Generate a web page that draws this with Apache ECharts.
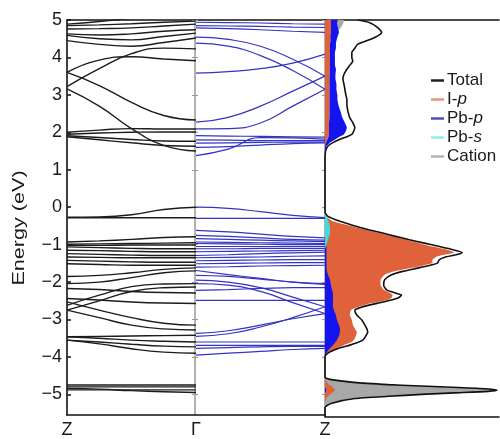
<!DOCTYPE html>
<html>
<head>
<meta charset="utf-8">
<script src="https://cdn.jsdelivr.net/npm/echarts@6/dist/echarts.min.js"></script>
<style>
html, body { margin: 0; background: #fff; }
#chart { width: 500px; height: 439px; }
</style>
</head>
<body>
<div id="chart"></div>
<script>
// k-path labels and energy ticks
const kLabels = ['Z', 'Γ', 'Z'];
const yTicks = [-5, -4, -3, -2, -1, 0, 1, 2, 3, 4, 5];
const kZG = [0, 0.25, 0.5, 0.75, 1];
const kGZ = [1, 1.25, 1.5, 1.75, 2];

// bands Z -> Γ (black), energies in eV at kZG
const bandsZG = [
    [4.89, 4.96, 5.05, 5.15, 5.2],
    [4.85, 4.87, 4.9, 4.94, 4.97],
    [4.76, 4.77, 4.79, 4.84, 4.89],
    [4.63, 4.6, 4.63, 4.7, 4.74],
    [4.59, 4.5, 4.47, 4.56, 4.65],
    [4.45, 4.35, 4.3, 4.4, 4.52],
    [3.6, 3.93, 4.02, 3.96, 3.91],
    [3.22, 3.7, 4.1, 4.25, 4.23],
    [3.6, 3.25, 2.8, 2.45, 2.33],
    [3.16, 2.7, 2.1, 1.65, 1.5],
    [2.0, 2.06, 2.1, 2.09, 2.09],
    [1.95, 1.98, 2.0, 2.01, 2.01],
    [1.91, 1.86, 1.81, 1.77, 1.76],
    [1.88, 1.8, 1.72, 1.65, 1.63],
    [-0.27, -0.26, -0.2, -0.06, 0.0],
    [-0.28, -0.28, -0.28, -0.28, -0.28],
    [-0.93, -0.9, -0.86, -0.81, -0.79],
    [-0.99, -0.98, -0.97, -0.96, -0.95],
    [-1.02, -1.02, -1.01, -1.01, -1.01],
    [-1.06, -1.08, -1.1, -1.11, -1.11],
    [-1.15, -1.16, -1.18, -1.19, -1.19],
    [-1.24, -1.26, -1.28, -1.29, -1.29],
    [-1.33, -1.34, -1.35, -1.35, -1.35],
    [-1.42, -1.44, -1.46, -1.47, -1.47],
    [-1.51, -1.53, -1.55, -1.55, -1.55],
    [-1.85, -1.82, -1.75, -1.66, -1.62],
    [-2.04, -2.0, -1.88, -1.75, -1.7],
    [-2.17, -2.2, -2.25, -2.28, -2.29],
    [-2.44, -2.48, -2.53, -2.56, -2.57],
    [-2.62, -2.35, -2.12, -2.05, -2.04],
    [-2.75, -2.5, -2.25, -2.15, -2.13],
    [-2.53, -2.75, -2.95, -3.1, -3.15],
    [-2.75, -2.95, -3.15, -3.25, -3.28],
    [-3.46, -3.45, -3.44, -3.43, -3.42],
    [-3.46, -3.5, -3.55, -3.58, -3.6],
    [-3.55, -3.6, -3.66, -3.71, -3.73],
    [-3.55, -3.65, -3.78, -3.87, -3.9],
    [-4.75, -4.75, -4.75, -4.75, -4.75],
    [-4.8, -4.8, -4.8, -4.8, -4.8],
    [-4.84, -4.86, -4.9, -4.93, -4.95],
    [-4.88, -4.88, -4.88, -4.88, -4.88],
];

// bands Γ -> Z (blue), energies in eV at kGZ
const bandsGZ = [
    [4.94, 4.93, 4.92, 4.9, 4.89],
    [4.85, 4.84, 4.83, 4.81, 4.8],
    [4.79, 4.77, 4.74, 4.7, 4.67],
    [4.54, 4.48, 4.3, 3.95, 3.5],
    [4.38, 4.3, 4.05, 3.65, 3.15],
    [3.58, 3.62, 3.7, 3.85, 4.09],
    [2.27, 2.4, 2.7, 3.1, 3.5],
    [2.09, 2.1, 2.25, 2.7, 3.15],
    [1.91, 1.9, 1.89, 1.88, 1.87],
    [1.8, 1.79, 1.78, 1.78, 1.78],
    [1.71, 1.72, 1.73, 1.74, 1.74],
    [1.6, 1.62, 1.66, 1.7, 1.72],
    [1.38, 1.55, 1.86, 1.85, 1.82],
    [0.0, -0.03, -0.12, -0.22, -0.28],
    [-0.3, -0.3, -0.3, -0.3, -0.3],
    [-0.62, -0.66, -0.72, -0.78, -0.82],
    [-0.75, -0.78, -0.82, -0.86, -0.88],
    [-0.84, -0.86, -0.88, -0.9, -0.92],
    [-0.93, -0.94, -0.95, -0.96, -0.97],
    [-0.97, -0.98, -0.99, -1.0, -1.0],
    [-1.05, -1.05, -1.05, -1.05, -1.05],
    [-1.11, -1.11, -1.1, -1.1, -1.1],
    [-1.19, -1.18, -1.17, -1.16, -1.15],
    [-1.29, -1.27, -1.24, -1.22, -1.2],
    [-1.35, -1.34, -1.33, -1.31, -1.3],
    [-1.43, -1.42, -1.41, -1.4, -1.4],
    [-1.51, -1.5, -1.49, -1.48, -1.48],
    [-1.6, -1.59, -1.57, -1.56, -1.55],
    [-1.69, -1.8, -1.9, -2.0, -2.04],
    [-1.82, -1.85, -1.92, -2.0, -2.06],
    [-1.95, -2.0, -2.15, -2.4, -2.66],
    [-2.04, -2.08, -2.25, -2.55, -2.84],
    [-2.22, -2.2, -2.17, -2.15, -2.15],
    [-2.49, -2.49, -2.49, -2.49, -2.49],
    [-3.37, -3.3, -3.15, -2.98, -2.84],
    [-3.45, -3.38, -3.2, -2.95, -2.66],
    [-3.6, -3.6, -3.6, -3.6, -3.6],
    [-3.69, -3.69, -3.69, -3.69, -3.69],
    [-3.77, -3.75, -3.73, -3.72, -3.72],
    [-3.95, -3.9, -3.85, -3.8, -3.77],
];

// density of states (arb. units) on a shared energy grid
const dosE = [
    5.0, 4.93, 4.8, 4.67, 4.55, 4.45, 4.36, 4.25, 4.14, 4.0,
    3.91, 3.8, 3.69, 3.55, 3.43, 3.3, 3.16, 3.0, 2.89, 2.75,
    2.58, 2.4, 2.27, 2.14, 2.05, 1.96, 1.9, 1.83, 1.74, 1.65,
    1.55, 1.47, 1.3, 0.5, -0.1, -0.22, -0.35, -0.49, -0.58, -0.66,
    -0.75, -0.84, -0.93, -1.02, -1.1, -1.18, -1.24, -1.29, -1.37, -1.46,
    -1.53, -1.6, -1.68, -1.77, -1.9, -2.05, -2.17, -2.25, -2.31, -2.38,
    -2.44, -2.53, -2.62, -2.71, -2.84, -2.97, -3.1, -3.2, -3.29, -3.4,
    -3.51, -3.58, -3.64, -3.72, -3.82, -3.95, -4.2, -4.49, -4.55, -4.63,
    -4.69, -4.72, -4.76, -4.8, -4.84, -4.87, -4.91, -4.95, -5.0, -5.06,
    -5.19, -5.3, -5.55,
];
const dosTotal = [
    3.3, 4.5, 5.3, 5.7, 5.1, 4.2, 3.3, 3.0, 2.7, 2.7,
    2.8, 2.5, 2.2, 1.9, 1.8, 1.9, 2.0, 2.1, 2.2, 2.2,
    2.3, 2.5, 2.8, 3.0, 2.9, 2.7, 2.2, 1.5, 0.8, 0.3,
    0.1, 0.03, 0, 0, 0, 0.3, 1.5, 3.2, 4.5, 5.8,
    7.1, 8.5, 10.0, 11.5, 12.8, 13.8, 13.2, 12.2, 11.5, 11.3,
    10.4, 9.2, 7.8, 6.7, 6.0, 5.9, 6.2, 7.0, 7.7, 7.4,
    6.7, 5.2, 3.8, 3.0, 3.2, 3.7, 4.0, 4.2, 4.3, 4.1,
    3.8, 3.2, 2.5, 1.4, 0.5, 0, 0, 0, 0.5, 2.9,
    6.4, 9.0, 12.8, 16.2, 17.3, 16.4, 13.0, 9.7, 6.4, 3.0,
    0.6, 0, 0,
];
const dosIp = [
    0.6, 0.6, 0.6, 0.6, 0.55, 0.55, 0.5, 0.5, 0.5, 0.5,
    0.5, 0.5, 0.5, 0.45, 0.45, 0.45, 0.45, 0.45, 0.45, 0.45,
    0.45, 0.45, 0.4, 0.4, 0.4, 0.4, 0.35, 0.25, 0.1, 0,
    0, 0, 0, 0, 0, 0.1, 0.8, 2.8, 4.2, 5.5,
    6.8, 8.2, 9.5, 10.8, 12.2, 13.0, 12.0, 11.2, 10.8, 10.8,
    9.8, 8.5, 7.0, 6.0, 5.6, 5.6, 5.9, 6.5, 6.8, 6.7,
    6.3, 4.6, 3.4, 2.6, 2.5, 2.7, 2.8, 3.0, 3.2, 3.1,
    2.9, 2.5, 1.9, 1.2, 0.4, 0, 0, 0, 0, 0.2,
    0.4, 0.6, 0.8, 0.9, 1.0, 0.9, 0.7, 0.5, 0.3, 0.1,
    0, 0, 0,
];
const dosPbp = [
    0.7, 0.6, 0.7, 0.8, 0.7, 0.6, 0.6, 0.6, 0.5, 0.5,
    0.5, 0.5, 0.6, 0.6, 0.6, 0.7, 0.7, 0.8, 0.8, 0.9,
    1.1, 1.3, 1.6, 1.8, 1.7, 1.5, 1.1, 0.8, 0.4, 0.15,
    0.05, 0, 0, 0, 0, 0.1, 0.15, 0.15, 0.15, 0.15,
    0.15, 0.15, 0.15, 0.15, 0.15, 0.15, 0.15, 0.15, 0.15, 0.15,
    0.15, 0.15, 0.2, 0.3, 0.5, 0.6, 0.7, 0.8, 0.8, 0.8,
    0.8, 0.8, 0.8, 0.9, 1.1, 1.2, 1.4, 1.5, 1.5, 1.4,
    1.2, 1.0, 0.8, 0.5, 0.2, 0, 0, 0, 0, 0,
    0, 0, 0, 0.1, 0.1, 0.1, 0, 0, 0, 0,
    0, 0, 0,
];
const dosPbs = [
    0, 0, 0, 0, 0, 0, 0, 0, 0, 0,
    0, 0, 0, 0, 0, 0, 0, 0, 0, 0,
    0, 0, 0, 0, 0, 0, 0, 0, 0, 0,
    0, 0, 0, 0, 0, 0.2, 0.35, 0.5, 0.5, 0.5,
    0.4, 0.3, 0.2, 0.1, 0, 0, 0, 0, 0, 0,
    0, 0, 0, 0, 0, 0, 0, 0, 0, 0,
    0, 0, 0, 0, 0, 0, 0, 0, 0, 0,
    0, 0, 0, 0, 0, 0, 0, 0, 0, 0,
    0, 0, 0, 0, 0, 0, 0, 0, 0, 0,
    0, 0, 0,
];
const dosCation = [
    1.9, 1.85, 1.6, 1.2, 0.7, 0.3, 0, 0, 0, 0,
    0, 0, 0, 0, 0, 0, 0, 0, 0, 0,
    0, 0, 0, 0, 0, 0, 0, 0, 0, 0,
    0, 0, 0, 0, 0, 0, 0, 0, 0, 0,
    0, 0, 0, 0, 0, 0, 0, 0, 0, 0,
    0, 0, 0, 0, 0, 0, 0, 0, 0, 0,
    0, 0, 0, 0, 0, 0, 0, 0, 0, 0,
    0, 0, 0, 0, 0, 0, 0, 0, 0.3, 2.6,
    6.1, 8.7, 12.5, 15.9, 17.0, 16.1, 12.7, 9.4, 6.1, 2.7,
    0.4, 0, 0,
];

const FONT = 'Liberation Sans, Arial, sans-serif';
const TXT = '#1a1a1a';
const C_IP = '#E0623A';
const C_PBP = '#1414EE';
const C_PBS = '#40DCDC';
const C_CAT = '#A8A8A8';
const yMin = -5.55;
const yMax = 5;

const bandSeries = [];
bandsZG.forEach((b) => {
    bandSeries.push({
        type: 'line', xAxisIndex: 0, yAxisIndex: 0, smooth: true, symbol: 'none', silent: true,
        lineStyle: { color: '#1c1c1c', width: 1.4 },
        data: b.map((e, i) => [kZG[i], e]),
    });
});
bandsGZ.forEach((b) => {
    bandSeries.push({
        type: 'line', xAxisIndex: 0, yAxisIndex: 0, smooth: true, symbol: 'none', silent: true,
        lineStyle: { color: '#3434C4', width: 1.2 },
        data: b.map((e, i) => [kGZ[i], e]),
    });
});

// filled DOS projection between lo(i) and hi(i)
const fillSeries = (name, color, lo, hi) => ({
    name,
    type: 'custom',
    xAxisIndex: 2,
    yAxisIndex: 4,
    silent: true,
    itemStyle: { color },
    data: dosE.map((e, i) => [hi(i), e]),
    renderItem: (params, api) => {
        if (params.dataIndex !== 0) return null;
        const pts = [];
        dosE.forEach((e, i) => pts.push(api.coord([hi(i), e])));
        for (let i = dosE.length - 1; i >= 0; i--) pts.push(api.coord([lo(i), dosE[i]]));
        return { type: 'polygon', shape: { points: pts, smooth: 0.15 }, style: { fill: color } };
    },
});

const pbpBase = (i) => (dosE[i] > 0.5 ? dosIp[i] : 0);

const hiddenAxis = {
    axisTick: { show: false }, axisLabel: { show: false }, splitLine: { show: false },
};

const option = {
    animation: false,
    grid: [
        { left: 67, right: 175, top: 20, bottom: 22 },
        { left: 325, right: 1, top: 20, bottom: 22 },
    ],
    graphic: [
        {
            type: 'text',
            x: 20,
            y: 228,
            rotation: Math.PI / 2,
            scaleX: 1.35,
            style: {
                text: 'Energy (eV)', font: '16px ' + FONT, fill: TXT,
                align: 'center', verticalAlign: 'middle',
            },
        },
    ],
    xAxis: [
        {
            gridIndex: 0, type: 'value', min: 0, max: 2, interval: 1, position: 'bottom',
            axisLine: { onZero: false, lineStyle: { color: '#111', width: 1.6 } },
            axisTick: { show: false },
            splitLine: { show: false },
            axisLabel: {
                formatter: (v) => kLabels[v], fontSize: 18, color: TXT, fontFamily: FONT, margin: 6,
                showMinLabel: true, showMaxLabel: true,
            },
        },
        {
            gridIndex: 0, type: 'value', min: 0, max: 2, position: 'top',
            axisLine: { onZero: false, lineStyle: { color: '#111', width: 1.6 } },
            ...hiddenAxis,
        },
        {
            gridIndex: 1, type: 'value', min: 0, max: 17.5, position: 'bottom',
            axisLine: { onZero: false, lineStyle: { color: '#111', width: 1.6 } },
            ...hiddenAxis,
        },
        {
            gridIndex: 1, type: 'value', min: 0, max: 17.5, position: 'top',
            axisLine: { onZero: false, lineStyle: { color: '#111', width: 1.6 } },
            ...hiddenAxis,
        },
    ],
    yAxis: [
        {
            gridIndex: 0, type: 'value', min: yMin, max: yMax, position: 'left',
            axisLine: { onZero: false, lineStyle: { color: '#111', width: 1.6 } },
            axisTick: { inside: true, length: 4, customValues: yTicks, lineStyle: { color: '#111', width: 1.5 } },
            axisLabel: {
                customValues: yTicks, fontSize: 18, color: TXT, fontFamily: FONT, margin: 5,
                formatter: (v) => String(v).replace('-', '\u2212'),
            },
            splitLine: { show: false },
        },
        {
            gridIndex: 0, type: 'value', min: yMin, max: yMax, position: 'right',
            axisLine: { onZero: false, lineStyle: { color: '#999', width: 1.5 } },
            axisTick: { inside: true, length: 3, customValues: yTicks, lineStyle: { color: '#999' } },
            axisLabel: { show: false }, splitLine: { show: false },
        },
        {
            gridIndex: 0, type: 'value', min: yMin, max: yMax, position: 'left', offset: -128,
            axisLine: { onZero: false, lineStyle: { color: '#999', width: 1.5 } },
            axisTick: { inside: true, length: 3, customValues: yTicks, lineStyle: { color: '#999' } },
            axisLabel: { show: false }, splitLine: { show: false },
        },
        {
            gridIndex: 0, type: 'value', min: yMin, max: yMax, position: 'left', offset: -128,
            axisLine: { show: false },
            axisTick: { inside: false, length: 3, customValues: yTicks, lineStyle: { color: '#999' } },
            axisLabel: { show: false }, splitLine: { show: false },
        },
        {
            gridIndex: 1, type: 'value', min: yMin, max: yMax,
            axisLine: { show: false }, ...hiddenAxis,
        },
    ],
    legend: {
        orient: 'vertical',
        left: 426,
        top: 67,
        itemWidth: 13,
        itemHeight: 2.5,
        itemGap: 2,
        data: [
            { name: 'Total', icon: 'rect', itemStyle: { color: '#222' } },
            { name: 'I-p', icon: 'rect', itemStyle: { color: '#E8967A' } },
            { name: 'Pb-p', icon: 'rect', itemStyle: { color: '#5050BB' } },
            { name: 'Pb-s', icon: 'rect', itemStyle: { color: '#88EEE6' } },
            { name: 'Cation', icon: 'rect', itemStyle: { color: '#B3B3B3' } },
        ],
        formatter: (name) => {
            if (name === 'I-p') return '{n|I-}{i|p}';
            if (name === 'Pb-p') return '{n|Pb-}{i|p}';
            if (name === 'Pb-s') return '{n|Pb-}{i|s}';
            return '{n|' + name + '}';
        },
        textStyle: {
            fontSize: 17, color: TXT, fontFamily: FONT, lineHeight: 16, padding: [0, 0, 0, -2],
            rich: {
                n: { fontSize: 17, fontFamily: FONT, color: TXT, lineHeight: 16 },
                i: { fontSize: 17, fontFamily: FONT, fontStyle: 'italic', color: TXT, lineHeight: 16 },
            },
        },
    },
    series: [
        ...bandSeries,
        fillSeries('Cation', C_CAT, () => 0, (i) => dosCation[i]),
        fillSeries('I-p', C_IP, () => 0, (i) => dosIp[i]),
        fillSeries('Pb-p', C_PBP, pbpBase, (i) => pbpBase(i) + dosPbp[i]),
        fillSeries('Pb-s', C_PBS, () => 0, (i) => dosPbs[i]),
        {
            name: 'Total', type: 'line', xAxisIndex: 2, yAxisIndex: 4, smooth: 0.2, symbol: 'none', silent: true,
            itemStyle: { color: '#111' },
            lineStyle: { color: '#111', width: 1.6 },
            data: dosE.map((e, i) => [dosTotal[i], e]),
        },
    ],
};

const chart = echarts.init(document.getElementById('chart'));
chart.setOption(option);
</script>
</body>
</html>
